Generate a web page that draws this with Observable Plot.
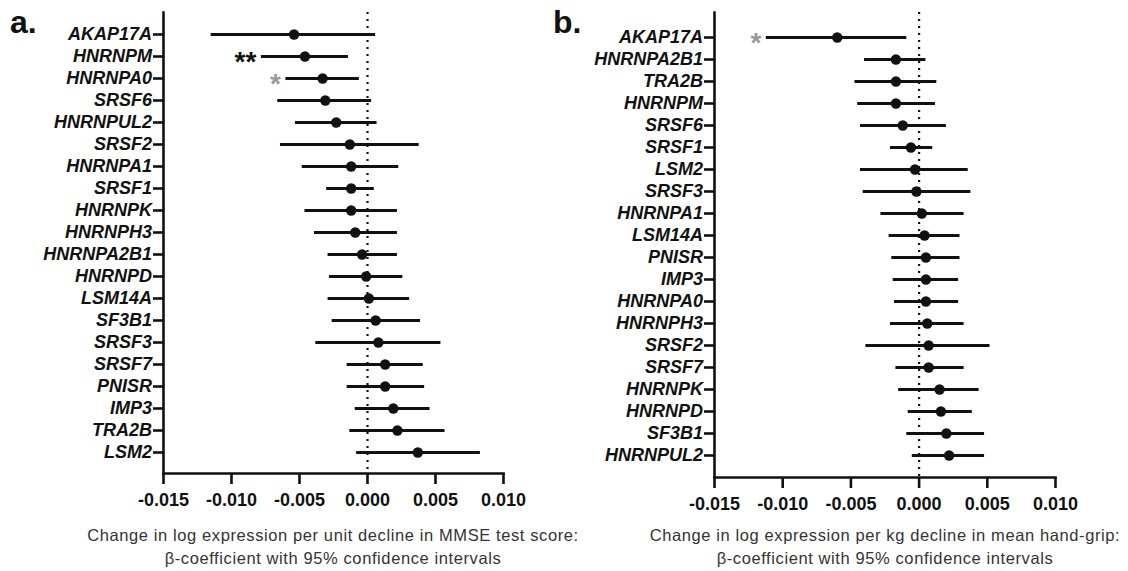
<!DOCTYPE html>
<html>
<head>
<meta charset="utf-8">
<script src="https://cdn.jsdelivr.net/npm/d3@7"></script>
<script src="https://cdn.jsdelivr.net/npm/@observablehq/plot@0.6"></script>
<style>
  html, body { margin: 0; padding: 0; background: #fff; }
  #root { position: relative; width: 1128px; height: 571px; font-family: "Liberation Sans", Arial, Helvetica, sans-serif; }
  .panel { position: absolute; top: 0; }
  .plab { position: absolute; font-weight: bold; font-size: 32px; color: #111; line-height: 1; }
  .cap { position: absolute; width: 640px; text-align: center; font-size: 16.5px; letter-spacing: 0.6px; line-height: 22.5px; color: #333; }
</style>
</head>
<body>
<div id="root">
  <div class="plab" style="left:10px; top:6px;">a.</div>
  <div class="plab" style="left:553px; top:6px;">b.</div>
  <div id="pa" class="panel" style="left:0px;"></div>
  <div id="pb" class="panel" style="left:564px;"></div>
  <div class="cap" style="left:13px; top:524px;">Change in log expression per unit decline in MMSE test score:<br>β-coefficient with 95% confidence intervals</div>
  <div class="cap" style="left:565px; top:524px;">Change in log expression per kg decline in mean hand-grip:<br>β-coefficient with 95% confidence intervals</div>
</div>
<script>
// Panel a: MMSE
const genesA = ["AKAP17A","HNRNPM","HNRNPA0","SRSF6","HNRNPUL2","SRSF2","HNRNPA1","SRSF1","HNRNPK","HNRNPH3","HNRNPA2B1","HNRNPD","LSM14A","SF3B1","SRSF3","SRSF7","PNISR","IMP3","TRA2B","LSM2"];
const estA = [-0.0054,-0.0046,-0.0033,-0.0031,-0.0023,-0.0013,-0.0012,-0.0012,-0.0012,-0.0009,-0.0004,-0.0001,0.0001,0.0006,0.0008,0.0013,0.0013,0.0019,0.0022,0.0037];
const loA  = [-0.0115,-0.0078,-0.0060,-0.0066,-0.0053,-0.0064,-0.0048,-0.0030,-0.0046,-0.0039,-0.0029,-0.0028,-0.0029,-0.0026,-0.0038,-0.0015,-0.0015,-0.0009,-0.0013,-0.0008];
const hiA  = [0.0006,-0.0014,-0.0006,0.0003,0.0007,0.0038,0.0023,0.0005,0.0022,0.0022,0.0022,0.0026,0.0031,0.0039,0.0054,0.0041,0.0042,0.0046,0.0057,0.0083];
const starGenesA = ["HNRNPM","HNRNPA0"];
const starTextA = ["**","*"];
const starColorA = ["#111","#999"];

// Panel b: hand-grip
const genesB = ["AKAP17A","HNRNPA2B1","TRA2B","HNRNPM","SRSF6","SRSF1","LSM2","SRSF3","HNRNPA1","LSM14A","PNISR","IMP3","HNRNPA0","HNRNPH3","SRSF2","SRSF7","HNRNPK","HNRNPD","SF3B1","HNRNPUL2"];
const estB = [-0.0060,-0.0017,-0.0017,-0.0017,-0.0012,-0.0006,-0.0003,-0.0002,0.0002,0.0004,0.0005,0.0005,0.0005,0.0006,0.0007,0.0007,0.0015,0.0016,0.0020,0.0022];
const loB  = [-0.0112,-0.0040,-0.0047,-0.0045,-0.0043,-0.0021,-0.0043,-0.0041,-0.0028,-0.0022,-0.0020,-0.0019,-0.0018,-0.0021,-0.0039,-0.0017,-0.0015,-0.0008,-0.0009,-0.0005];
const hiB  = [-0.0009,0.0005,0.0013,0.0012,0.0020,0.0010,0.0036,0.0038,0.0033,0.0030,0.0030,0.0029,0.0029,0.0033,0.0052,0.0033,0.0044,0.0039,0.0048,0.0048];
const starGenesB = ["AKAP17A"];
const starTextB = ["*"];
const starColorB = ["#999"];

const xTicks = [-0.015,-0.010,-0.005,0.000,0.005,0.010];
const xDomain = [-0.015, 0.010];

function build(genes, est, lo, hi, sGenes, sText, sColor, opts) {
  const data = genes.map((g, i) => ({gene: g, est: est[i], lo: lo[i], hi: hi[i]}));
  const stars = sGenes.map((g, i) => ({gene: g, lo: lo[genes.indexOf(g)], text: sText[i], color: sColor[i]}));
  return Plot.plot({
    width: 564,
    height: 520,
    marginLeft: opts.marginLeft,
    marginRight: opts.marginRight,
    marginTop: opts.marginTop,
    marginBottom: opts.marginBottom,
    style: {fontFamily: '"Liberation Sans", Arial, Helvetica, sans-serif', color: "#111", background: "transparent"},
    x: {domain: xDomain, ticks: xTicks},
    y: {type: "point", domain: genes, range: opts.yRange, padding: 0},
    marks: [
      Plot.ruleX([0], {strokeDasharray: "2,5", strokeWidth: 2.2, stroke: "#111"}),
      Plot.ruleY(data, {y: "gene", x1: "lo", x2: "hi", strokeWidth: 2.8, stroke: "#111"}),
      Plot.dot(data, {x: "est", y: "gene", r: 5.2, fill: "#111", stroke: null}),
      Plot.text(stars, {x: "lo", y: "gene", text: "text", fill: "color", textAnchor: "end", dx: -5, dy: 6, fontSize: 28, fontWeight: "bold"}),
      Plot.frame({anchor: "left", strokeWidth: 2.6, stroke: "#111"}),
      Plot.frame({anchor: "bottom", strokeWidth: 2.6, stroke: "#111"}),
      Plot.axisY({tickSize: 10, tickPadding: 1.5, strokeWidth: 2.6, fontSize: 18, fontWeight: "bold", fontStyle: "italic", label: null}),
      Plot.axisX({ticks: xTicks, tickSize: 11, tickPadding: 9, strokeWidth: 2.6, fontSize: 18, fontWeight: "bold", tickFormat: d => d.toFixed(3), label: null})
    ]
  });
}

document.getElementById("pa").append(build(genesA, estA, loA, hiA, starGenesA, starTextA, starColorA,
  {marginLeft: 163, marginRight: 61, marginTop: 12, marginBottom: 47, yRange: [26.5, 459.3]}));
document.getElementById("pb").append(build(genesB, estB, loB, hiB, starGenesB, starTextB, starColorB,
  {marginLeft: 150, marginRight: 73, marginTop: 12, marginBottom: 43, yRange: [30, 462.7]}));
</script>
</body>
</html>
